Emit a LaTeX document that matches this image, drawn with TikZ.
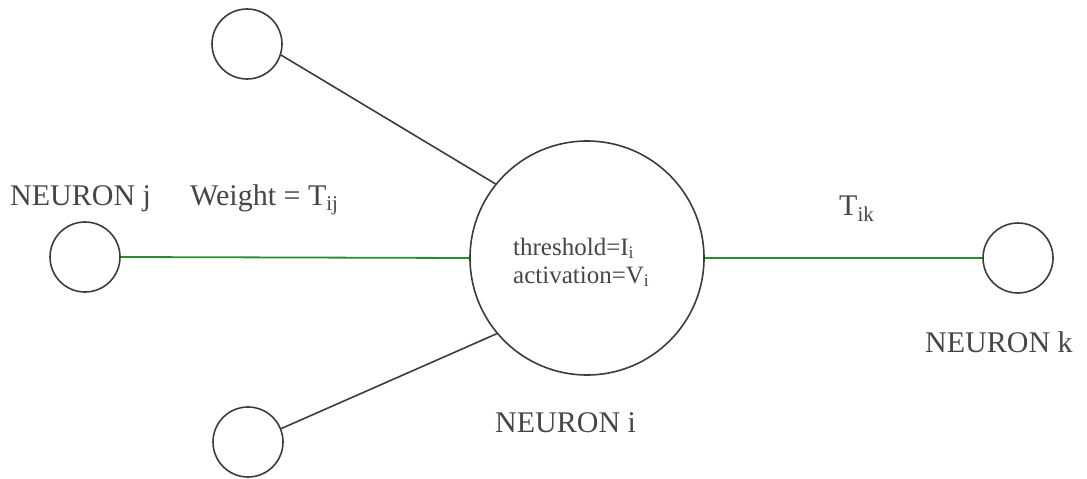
\documentclass[tikz,border=0pt]{standalone}
\usepackage{fontspec}
\setmainfont{Liberation Serif}
\definecolor{linegray}{RGB}{60,60,60}
\definecolor{linkgreen}{RGB}{40,140,50}
\definecolor{txtgray}{RGB}{70,70,70}
\tikzset{
  neuron/.style={circle, draw=linegray, line width=1.6pt, inner sep=0pt, minimum size=70pt},
  bigneuron/.style={circle, draw=linegray, line width=1.6pt, inner sep=0pt, minimum size=234pt},
  link/.style={draw=linegray, line width=1.6pt},
  greenlink/.style={draw=linkgreen, line width=1.8pt},
  lbl/.style={anchor=base west, inner sep=0pt, text=txtgray, font=\fontsize{30}{36}\selectfont},
  inlbl/.style={anchor=base west, inner sep=0pt, text=txtgray, font=\fontsize{25}{30}\selectfont}
}
\begin{document}
\begin{tikzpicture}[x=1pt, y=-1pt]
\useasboundingbox (0,0) rectangle (1087,479);
\node[bigneuron] (i) at (587,258) {};
\node[neuron] (top) at (247,44) {};
\node[neuron] (j) at (85,257) {};
\node[neuron] (k) at (1018,258) {};
\node[neuron] (bot) at (248,442) {};
\draw[link] (top.-18) -- (i.141);
\draw[link] (bot.22) -- (i.-140);
\draw[greenlink] (j.east) -- (i.west);
\draw[greenlink] (i.east) -- (k.west);
\node[lbl] (lj) at (10,205) {NEURON j};
\node[lbl] (lw) at (190,205) {Weight = T\textsubscript{ij}};
\node[lbl] (lk) at (839,215) {T\textsubscript{ik}};
\node[lbl] (lnk) at (925,352) {NEURON k};
\node[lbl] (lni) at (495,432) {NEURON i};
\node[inlbl] (th) at (513,255) {threshold=I\textsubscript{i}};
\node[inlbl] (ac) at (513,283) {activation=V\textsubscript{i}};
\end{tikzpicture}
\end{document}
